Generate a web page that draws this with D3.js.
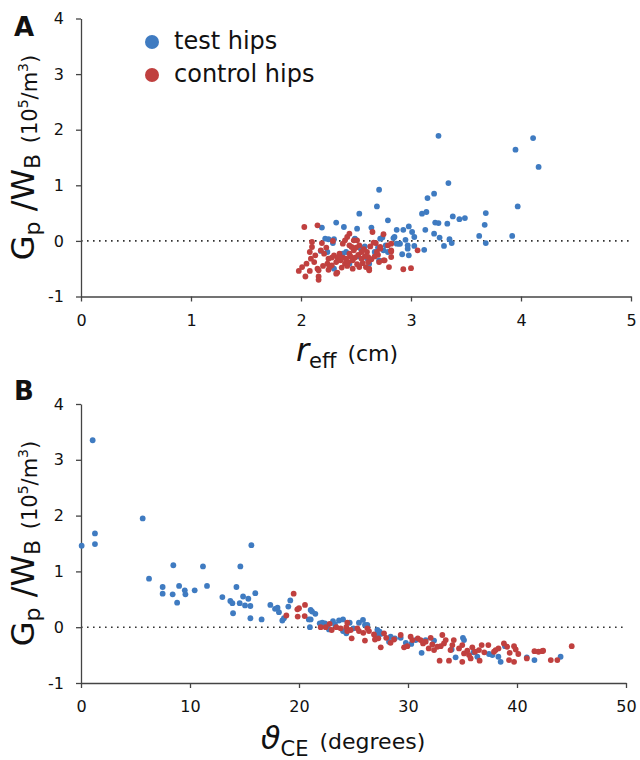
<!DOCTYPE html>
<html><head><meta charset="utf-8">
<script src="https://cdn.jsdelivr.net/npm/d3@7"></script>
<style>body{margin:0;background:#fff}svg{display:block}text{font-family:"DejaVu Sans",sans-serif;fill:#111}</style>
</head><body>
<svg id="c" width="640" height="760"></svg>
<script>
// Panel A: r_eff (cm) vs Gp/WB
const testA = [[3.25,1.89],[3.95,1.64],[4.11,1.85],[4.16,1.33],[3.34,1.04],[3.21,0.85],[3.15,0.77],[2.71,0.92],[2.69,0.62],[3.97,0.62],[3.10,0.49],[3.14,0.52],[2.53,0.49],[3.38,0.44],[3.44,0.39],[3.49,0.41],[3.68,0.50],[3.67,0.29],[3.22,0.33],[3.25,0.32],[3.33,0.31],[2.79,0.37],[2.32,0.33],[2.39,0.25],[2.51,0.22],[2.64,0.24],[2.19,0.24],[2.87,0.20],[2.93,0.20],[2.98,0.26],[3.01,0.16],[3.03,0.07],[3.13,0.20],[3.21,0.13],[3.26,0.06],[3.62,0.09],[3.92,0.09],[3.68,-0.04],[3.35,0.03],[3.37,-0.04],[3.30,-0.09],[3.12,-0.16],[2.98,-0.26],[2.92,-0.24],[2.97,-0.14],[2.97,-0.08],[2.95,0.02],[2.89,-0.05],[2.84,0.05],[2.74,0.06],[2.72,0.04],[2.77,-0.08],[2.71,-0.35],[2.67,-0.20],[2.54,-0.13],[2.49,0.03],[2.30,0.03],[2.25,0.03],[2.22,0.04],[2.29,-0.04],[2.18,-0.18],[2.38,-0.23],[2.30,-0.50],[2.44,-0.41],[2.62,-0.41],[3.03,-0.09],[2.90,-0.05],[2.24,-0.20],[2.41,-0.20],[2.58,-0.10],[2.75,-0.17],[2.79,-0.20],[2.70,-0.12],[2.85,0.07],[2.87,-0.05],[2.49,0.04],[2.36,-0.30],[2.52,-0.28],[2.60,-0.31]];
const controlA = [[2.03,0.25],[2.15,0.28],[2.10,-0.02],[2.19,-0.04],[2.21,-0.23],[2.18,-0.17],[2.13,-0.26],[2.09,-0.32],[2.05,-0.41],[2.01,-0.47],[1.98,-0.54],[2.04,-0.64],[2.08,-0.54],[2.16,-0.64],[2.16,-0.70],[2.15,-0.50],[2.24,-0.41],[2.25,-0.32],[2.30,-0.26],[2.35,-0.23],[2.32,-0.38],[2.36,-0.35],[2.33,-0.57],[2.41,-0.32],[2.44,-0.23],[2.48,-0.17],[2.44,0.13],[2.42,0.07],[2.40,0.01],[2.38,-0.05],[2.48,0.01],[2.51,0.01],[2.53,-0.08],[2.46,-0.11],[2.65,0.16],[2.75,0.12],[2.68,-0.04],[2.66,-0.03],[2.79,-0.08],[2.82,-0.17],[2.82,-0.29],[2.76,-0.35],[2.80,-0.47],[2.71,-0.38],[2.62,-0.53],[2.53,-0.47],[2.56,-0.40],[2.51,-0.42],[2.40,-0.41],[2.28,-0.44],[2.25,-0.52],[2.32,-0.59],[2.16,-0.53],[2.10,-0.11],[2.93,-0.51],[3.00,-0.49],[3.06,-0.17],[2.82,-0.05],[2.82,-0.19],[2.72,-0.14],[2.75,-0.35],[2.60,-0.20],[2.61,-0.29],[2.59,-0.47],[2.62,-0.50],[2.72,-0.11],[2.29,0.00],[2.28,-0.30],[2.33,-0.30],[2.38,-0.30],[2.43,-0.38],[2.47,-0.35],[2.49,-0.30],[2.52,-0.25],[2.55,-0.20],[2.58,-0.28],[2.61,-0.38],[2.64,-0.33],[2.67,-0.28],[2.70,-0.25],[2.55,-0.32],[2.45,-0.28],[2.42,-0.45],[2.47,-0.50],[2.37,-0.48],[2.20,-0.45],[2.26,-0.47],[2.12,-0.38],[2.08,-0.20],[2.23,-0.12],[2.57,-0.15],[2.63,-0.10],[2.69,-0.20],[2.44,-0.08],[2.50,-0.12]];
// Panel B: theta_CE (degrees) vs Gp/WB
const testB = [[0.06,1.46],[1.07,3.35],[1.28,1.68],[1.28,1.49],[5.66,1.95],[6.24,0.87],[7.49,0.72],[7.49,0.60],[8.47,1.11],[8.41,0.59],[8.82,0.44],[9.0,0.74],[9.52,0.66],[9.58,0.59],[10.43,0.66],[11.19,1.09],[11.56,0.74],[12.97,0.54],[13.70,0.47],[13.89,0.43],[13.95,0.25],[14.26,0.72],[14.56,0.43],[14.62,1.09],[14.87,0.55],[15.05,0.39],[15.35,0.51],[15.54,0.38],[15.54,0.16],[15.63,1.47],[15.99,0.61],[16.57,0.14],[17.37,0.40],[17.80,0.33],[18.03,0.35],[18.16,0.27],[18.47,0.12],[18.62,0.16],[19.02,0.37],[19.20,0.48],[21.0,0.0],[21.07,0.31],[21.2,0.28],[21.5,0.24],[21.07,0.14],[21.9,0.07],[22.14,0.08],[22.39,0.07],[22.75,-0.04],[23.12,0.11],[23.67,0.12],[24.04,0.14],[24.04,-0.07],[24.34,-0.11],[24.65,0.08],[25.5,0.08],[25.87,0.13],[26.05,0.04],[26.27,0.04],[27.19,-0.05],[27.4,-0.08],[27.5,-0.12],[27.19,-0.14],[28.26,-0.26],[28.41,-0.17],[29.33,-0.19],[29.8,-0.28],[30.7,-0.23],[31.25,-0.46],[31.62,-0.23],[32.39,-0.24],[34.37,-0.54],[35.04,-0.19],[35.14,-0.23],[36.36,-0.53],[37.43,-0.48],[37.74,-0.50],[38.29,-0.53],[38.5,-0.62],[38.9,-0.34],[40.9,-0.54],[41.6,-0.59],[44.0,-0.53],[20.9,0.14],[22.6,0.03],[23.3,0.05],[25.0,-0.02],[28.8,-0.20],[30.3,-0.30],[34.0,-0.40],[36.0,-0.45]];
const controlB = [[18.84,0.21],[19.51,0.60],[19.85,0.32],[19.88,0.19],[20.55,0.40],[20.52,0.20],[21.99,0.0],[22.45,0.0],[22.81,0.06],[23.42,0.0],[23.82,-0.02],[24.43,0.08],[24.34,0.0],[24.74,-0.05],[24.43,-0.07],[24.83,-0.20],[25.35,-0.02],[25.5,-0.07],[26.05,-0.24],[26.27,-0.02],[26.42,-0.07],[26.88,-0.13],[26.97,-0.22],[27.28,-0.20],[27.5,-0.36],[27.8,-0.11],[28.0,-0.19],[28.72,-0.22],[29.33,-0.14],[29.64,-0.36],[29.94,-0.34],[30.24,-0.17],[30.4,-0.23],[31.16,-0.23],[31.38,-0.29],[31.62,-0.26],[32.08,-0.19],[32.23,-0.31],[32.39,-0.41],[32.69,-0.35],[33.0,-0.34],[33.15,-0.14],[33.3,-0.29],[33.46,-0.23],[32.9,-0.60],[33.76,-0.60],[33.9,-0.41],[34.07,-0.32],[34.2,-0.23],[34.68,-0.38],[34.98,-0.32],[35.14,-0.47],[35.44,-0.42],[35.6,-0.50],[35.75,-0.56],[35.9,-0.36],[36.15,-0.44],[34.98,-0.62],[36.51,-0.41],[36.76,-0.32],[37.37,-0.32],[36.57,-0.60],[37.89,-0.44],[38.04,-0.41],[38.8,-0.29],[39.1,-0.35],[39.33,-0.46],[39.73,-0.34],[39.88,-0.40],[40.12,-0.48],[39.27,-0.59],[39.73,-0.62],[40.9,-0.56],[41.6,-0.43],[41.97,-0.44],[42.3,-0.43],[42.4,-0.42],[43.1,-0.59],[43.7,-0.59],[45.02,-0.34],[20.0,0.34],[23.0,-0.05],[25.9,-0.10],[28.4,-0.28],[30.9,-0.20],[31.9,-0.38],[37.0,-0.45],[38.3,-0.38]];
const xTicksA = [0,1,2,3,4,5];
const xTicksB = [0,10,20,30,40,50];
const yTicks = [-1,0,1,2,3,4];
const seriesNames = ["test hips","control hips"];
const colors = ["#3f7bc1","#c0403f"];

const svg = d3.select("#c");
const fmt = v => String(v); // plain hyphen-minus, integers

function panel(cfg){
  const g = svg.append("g");
  const x = cfg.x, y = cfg.y;
  // zero reference line
  g.append("line").attr("x1",x.range()[0]).attr("x2",x.range()[1])
    .attr("y1",y(0)).attr("y2",y(0))
    .attr("stroke","#333").attr("stroke-width",1.6).attr("stroke-dasharray","1.6,4.4");
  const xa = g.append("g").attr("transform",`translate(0,${y.range()[0]})`)
    .call(d3.axisBottom(x).tickValues(cfg.xTicks).tickFormat(fmt).tickSize(5).tickSizeOuter(0).tickPadding(13));
  const ya = g.append("g").attr("transform",`translate(${x.range()[0]},0)`)
    .call(d3.axisLeft(y).tickValues(yTicks).tickFormat(fmt).tickSize(5).tickSizeOuter(0).tickPadding(12));
  [xa,ya].forEach(a=>{
    a.selectAll("path,line").attr("stroke","#444").attr("stroke-width",1.3);
    a.selectAll("text").attr("font-size",16).attr("fill","#111").attr("font-family","DejaVu Sans");
  });
  [cfg.test,cfg.control].forEach((d,i)=>{
    g.append("g").selectAll("circle").data(d).join("circle")
      .attr("cx",p=>x(p[0])).attr("cy",p=>y(p[1])).attr("r",2.9).attr("fill",colors[i]);
  });
  // panel letter
  g.append("text").attr("x",14).attr("y",cfg.letterY).attr("font-size",26).attr("font-weight","bold")
    .attr("font-family","Liberation Sans").text(cfg.letter);
  // y label
  const cy = (y.range()[0]+y.range()[1])/2;
  const yl = g.append("text").attr("transform",`translate(34,${cy}) rotate(-90)`).attr("text-anchor","middle");
  yl.append("tspan").attr("font-size",32).text("G");
  yl.append("tspan").attr("font-size",22).attr("dy",6).text("p");
  yl.append("tspan").attr("font-size",32).attr("dy",-6).text(" /W");
  yl.append("tspan").attr("font-size",22).attr("dy",6).text("B");
  yl.append("tspan").attr("font-size",21).attr("dy",-3).text("\u2002(10");
  yl.append("tspan").attr("font-size",14).attr("dy",-9).text("5");
  yl.append("tspan").attr("font-size",21).attr("dy",9).text("/m");
  yl.append("tspan").attr("font-size",14).attr("dy",-9).text("3");
  yl.append("tspan").attr("font-size",21).attr("dy",9).text(")");
  // x label
  const xl = g.append("text").attr("x",cfg.xlabX).attr("y",cfg.xlabY).attr("text-anchor","middle");
  xl.append("tspan").attr("font-size",32).attr("font-style","italic").text(cfg.sym);
  xl.append("tspan").attr("font-size",21).attr("dy",7).text(cfg.sub);
  xl.append("tspan").attr("font-size",22).attr("dy",-7).text("\u2002" + cfg.unit);
}

panel({x:d3.scaleLinear().domain([0,5]).range([81,631]), y:d3.scaleLinear().domain([-1,4]).range([296.5,18.5]),
  xTicks:xTicksA, test:testA, control:controlA, letter:"A", letterY:36, sym:"r", sub:"eff", unit:"(cm)", xlabX:347, xlabY:361});
panel({x:d3.scaleLinear().domain([0,50]).range([81,626]), y:d3.scaleLinear().domain([-1,4]).range([683,404]),
  xTicks:xTicksB, test:testB, control:controlB, letter:"B", letterY:400, sym:"\u03D1", sub:"CE", unit:"(degrees)", xlabX:343, xlabY:749});

// legend
const lg = svg.append("g");
seriesNames.forEach((n,i)=>{
  lg.append("circle").attr("cx",152).attr("cy",42+i*33).attr("r",7).attr("fill",colors[i]);
  lg.append("text").attr("x",174).attr("y",49+i*33).attr("font-size",24).text(n);
});
</script>
</body></html>
